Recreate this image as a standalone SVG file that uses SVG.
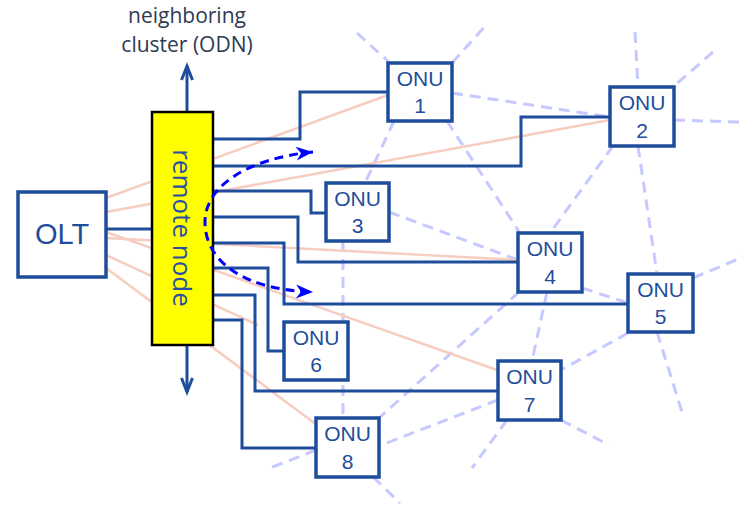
<svg xmlns="http://www.w3.org/2000/svg" width="744" height="506" viewBox="0 0 744 506">
<style>
.bg{fill:#ffffff}
.mesh{stroke:#c6c9ff;stroke-width:3;stroke-dasharray:11 7;fill:none}
.pink{stroke:#f8cdc1;stroke-width:2.5;fill:none}
.conn{stroke:#1e4d9b;stroke-width:3;fill:none}
.box{fill:#ffffff;stroke:#1e4d9b;stroke-width:3.5}
.lbl{font-family:"Liberation Sans",Arial,sans-serif;font-size:21px;fill:#1e4d9b;text-anchor:middle}
.rn{fill:#ffff00;stroke:#000000;stroke-width:2.5}
.rntxt{font-family:"Open Sans",sans-serif;font-size:26px;fill:#2a4fa0;text-anchor:middle;dominant-baseline:central}
.cap{font-family:"Open Sans",sans-serif;font-size:21px;fill:#2e3a52;text-anchor:middle}
.curve{stroke:#0000ff;stroke-width:3;stroke-dasharray:9 6;fill:none}
</style>
<defs>
<marker id="chev" markerUnits="userSpaceOnUse" markerWidth="16" markerHeight="16" viewBox="0 0 16 16" refX="14" refY="8" orient="auto" overflow="visible">
<path d="M0,2.5 L14,8 L0,13.5" fill="none" stroke="#1e4d9b" stroke-width="3"/>
</marker>
<marker id="head" markerUnits="userSpaceOnUse" markerWidth="18" markerHeight="14" viewBox="0 0 18 14" refX="17" refY="7" orient="auto-start-reverse" overflow="visible">
<path d="M0,0 L17,7 L0,14 L5,7 z" fill="#0000ff"/>
</marker>
</defs>
<rect class="bg" x="0" y="0" width="744" height="506"/>

<g id="mesh">
<line class="mesh" x1="357" y1="33" x2="390" y2="63"/>
<line class="mesh" x1="452" y1="63" x2="488" y2="23"/>
<line class="mesh" x1="452" y1="93" x2="610" y2="117"/>
<line class="mesh" x1="394" y1="121" x2="365" y2="183"/>
<line class="mesh" x1="447" y1="121" x2="520" y2="233"/>
<line class="mesh" x1="635" y1="32" x2="638" y2="87"/>
<line class="mesh" x1="713" y1="52" x2="673" y2="87"/>
<line class="mesh" x1="674" y1="120" x2="740" y2="122"/>
<line class="mesh" x1="613" y1="146" x2="550" y2="233"/>
<line class="mesh" x1="638" y1="146" x2="657" y2="274"/>
<line class="mesh" x1="389" y1="212" x2="518" y2="260"/>
<line class="mesh" x1="343" y1="241" x2="343" y2="418"/>
<line class="mesh" x1="519" y1="292" x2="379" y2="418"/>
<line class="mesh" x1="547" y1="292" x2="532" y2="361"/>
<line class="mesh" x1="582" y1="288" x2="628" y2="303"/>
<line class="mesh" x1="693" y1="278" x2="743" y2="257"/>
<line class="mesh" x1="657" y1="332" x2="682" y2="412"/>
<line class="mesh" x1="628" y1="333" x2="561" y2="370"/>
<line class="mesh" x1="507" y1="420" x2="472" y2="468"/>
<line class="mesh" x1="561" y1="420" x2="609" y2="445"/>
<line class="mesh" x1="498" y1="400" x2="379" y2="446"/>
<line class="mesh" x1="316" y1="450" x2="270" y2="468"/>
<line class="mesh" x1="373" y1="477" x2="400" y2="503"/>
</g>

<g id="pink-links">
<line class="pink" x1="106" y1="198" x2="388" y2="95"/>
<line class="pink" x1="106" y1="212" x2="610" y2="120"/>
<line class="pink" x1="106" y1="238" x2="518" y2="260"/>
<line class="pink" x1="106" y1="232" x2="497" y2="370"/>
<line class="pink" x1="106" y1="255" x2="258" y2="325"/>
<line class="pink" x1="106" y1="268" x2="317" y2="425"/>
</g>

<g id="connectors">
<path class="conn" d="M106,229 H152"/>
<path class="conn" d="M213,139 H300 V92 H388"/>
<path class="conn" d="M213,166 H521 V117 H610"/>
<path class="conn" d="M213,191 H311 V213 H326"/>
<path class="conn" d="M213,217 H298 V262 H518"/>
<path class="conn" d="M213,243 H284 V304 H628"/>
<path class="conn" d="M213,268 H268 V351 H284"/>
<path class="conn" d="M213,295 H255 V391 H498"/>
<path class="conn" d="M213,320 H242 V448 H316"/>
<line class="conn" x1="187" y1="112" x2="187" y2="66" marker-end="url(#chev)"/>
<line class="conn" x1="187" y1="345" x2="187" y2="392" marker-end="url(#chev)"/>
</g>

<g id="olt">
<rect class="box" x="18" y="192" width="88" height="85"/>
<text class="lbl" x="62" y="244" style="font-size:29px">OLT</text>
</g>

<g id="remote-node">
<rect class="rn" x="152" y="112" width="61" height="233"/>
<text class="rntxt" transform="translate(183,228) rotate(90)" x="0" y="0">remote node</text>
</g>

<g id="onu1"><rect class="box" x="388" y="63" width="64" height="58"/><text class="lbl" x="420" y="86">ONU</text><text class="lbl" x="420" y="113">1</text></g>
<g id="onu2"><rect class="box" x="610" y="87" width="64" height="59"/><text class="lbl" x="642" y="110">ONU</text><text class="lbl" x="642" y="138">2</text></g>
<g id="onu3"><rect class="box" x="326" y="183" width="63" height="58"/><text class="lbl" x="357.5" y="206">ONU</text><text class="lbl" x="357.5" y="233">3</text></g>
<g id="onu4"><rect class="box" x="518" y="233" width="64" height="59"/><text class="lbl" x="550" y="256">ONU</text><text class="lbl" x="550" y="284">4</text></g>
<g id="onu5"><rect class="box" x="628" y="274" width="65" height="58"/><text class="lbl" x="660.5" y="297">ONU</text><text class="lbl" x="660.5" y="324">5</text></g>
<g id="onu6"><rect class="box" x="284" y="322" width="64" height="58"/><text class="lbl" x="316" y="345">ONU</text><text class="lbl" x="316" y="372">6</text></g>
<g id="onu7"><rect class="box" x="498" y="361" width="63" height="59"/><text class="lbl" x="529.5" y="384">ONU</text><text class="lbl" x="529.5" y="412">7</text></g>
<g id="onu8"><rect class="box" x="316" y="418" width="63" height="59"/><text class="lbl" x="347.5" y="441">ONU</text><text class="lbl" x="347.5" y="469">8</text></g>

<g id="reroute">
<path class="curve" d="M313,152 C250,158 205,185 205,222 C205,262 245,290 313,292" marker-start="url(#head)" marker-end="url(#head)"/>
</g>

<g id="caption">
<text class="cap" x="187" y="23">neighboring</text>
<text class="cap" x="187" y="52">cluster (ODN)</text>
</g>
</svg>
